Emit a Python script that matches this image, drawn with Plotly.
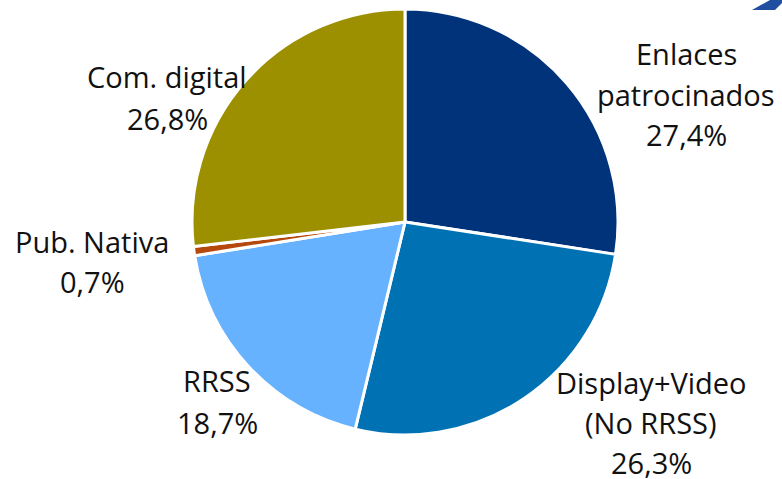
import plotly.graph_objects as go

# data
labels = ["Enlaces patrocinados", "Display+Video (No RRSS)", "RRSS", "Pub. Nativa", "Com. digital"]
values = [27.4, 26.3, 18.7, 0.7, 26.8]
label_lines = [["Enlaces", "patrocinados"], ["Display+Video", "(No RRSS)"], ["RRSS"], ["Pub. Nativa"], ["Com. digital"]]
colors = ["#00337a", "#0072b4", "#66b2ff", "#b5480c", "#9c9000"]

W, H = 782, 479

fig = go.Figure()
fig.add_trace(go.Pie(
    labels=labels,
    values=values,
    sort=False,
    direction="clockwise",
    rotation=0,
    marker=dict(colors=colors, line=dict(color="white", width=3)),
    textinfo="none",
    hoverinfo="label+percent",
    showlegend=False,
    domain=dict(x=[192 / W, 618 / W], y=[1 - 435 / H, 1 - 9 / H]),
))

# label placement (pixel centre of first line, line step)
label_pos = [(686, 54, 40), (651, 382, 40), (217, 380, 42), (92, 241, 40), (167, 76, 42)]

annotations = []
for lines, v, (px, py, step) in zip(label_lines, values, label_pos):
    txt = lines + [f"{v:.1f}".replace(".", ",") + "%"]
    for i, t in enumerate(txt):
        annotations.append(dict(
            x=px / W, y=1 - (py + i * step) / H, xref="paper", yref="paper",
            text=t, showarrow=False, xanchor="center", yanchor="middle",
            borderpad=0,
            font=dict(family="Open Sans, sans-serif", size=29, color="#111111"),
        ))

fig.update_layout(
    width=W, height=H,
    margin=dict(l=0, r=0, t=0, b=0),
    paper_bgcolor="white",
    annotations=annotations,
    shapes=[dict(type="path", xref="paper", yref="paper",
                 path=f"M {752/W} {1-10/H} L {770/W} 1 L 1 1 L 1 {1-3/H} L {775/W} {1-10/H} Z",
                 fillcolor="#1f4f9e", line=dict(width=0))],
)

fig.write_html("out.html", config={"displayModeBar": False},
               post_script="document.body.style.margin='0';")
